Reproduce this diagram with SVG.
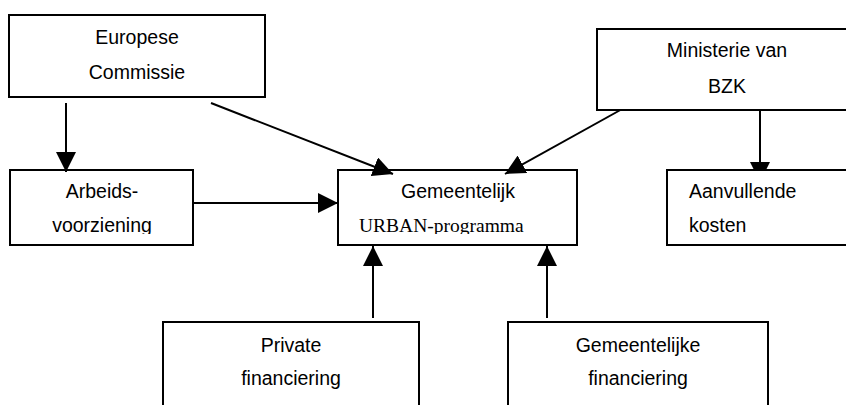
<svg xmlns="http://www.w3.org/2000/svg" width="846" height="405" viewBox="0 0 846 405">
<defs>
<style>
.box{fill:#fff;stroke:#000;stroke-width:2}
.t{font-family:"Liberation Sans",Arial,sans-serif;font-size:19.5px;fill:#000;text-anchor:middle}
.ts{font-family:"Liberation Serif","Times New Roman",serif;font-size:19.5px;fill:#000}
.l{font-family:"Liberation Sans",Arial,sans-serif;font-size:19.5px;fill:#000}
.c{stroke:#000;stroke-width:2;fill:none;marker-end:url(#ah)}
</style>
<marker id="ah" markerUnits="userSpaceOnUse" markerWidth="20" markerHeight="20" viewBox="0 0 20 20" refX="20" refY="10" orient="auto">
<path d="M0,0 L20,10 L0,20 Z" fill="#000"/>
</marker>
<clipPath id="c1"><rect x="0" y="0" width="846" height="234"/></clipPath>
<clipPath id="c2"><rect x="0" y="0" width="846" height="395"/></clipPath>
</defs>
<g id="connectors">
<line class="c" x1="66" y1="103" x2="66" y2="172"/>
<line class="c" x1="211" y1="103" x2="393" y2="174"/>
<line class="c" x1="624" y1="108" x2="505" y2="174"/>
<line class="c" x1="760" y1="111" x2="760" y2="182"/>
<line class="c" x1="193" y1="203" x2="338" y2="203"/>
<line class="c" x1="373" y1="318" x2="373" y2="246"/>
<line class="c" x1="547" y1="318" x2="547" y2="246"/>
</g>
<g id="europese">
<rect class="box" x="9" y="15" width="256" height="82"/>
<text class="t" x="137" y="44">Europese</text>
<text class="t" x="137" y="79">Commissie</text>
</g>
<g id="ministerie">
<rect class="box" x="597" y="29" width="260" height="81"/>
<text class="t" x="727" y="57">Ministerie van</text>
<text class="t" x="727" y="93">BZK</text>
</g>
<g id="arbeids">
<rect class="box" x="10" y="170" width="183" height="75" fill-opacity="0"/>
<g clip-path="url(#c1)">
<text class="t" x="102" y="198">Arbeids-</text>
<text class="t" x="102" y="232">voorziening</text>
</g>
</g>
<g id="urban">
<rect class="box" x="338" y="170" width="239" height="75" fill-opacity="0"/>
<g clip-path="url(#c1)">
<text class="t" x="458" y="198">Gemeentelijk</text>
<text class="ts" x="359" y="232">URBAN-programma</text>
</g>
</g>
<g id="aanvullende">
<rect class="box" x="667" y="170" width="190" height="75"/>
<g clip-path="url(#c1)">
<text class="l" x="689" y="198">Aanvullende</text>
<text class="l" x="689" y="232">kosten</text>
</g>
</g>
<g id="private">
<rect class="box" x="163" y="322" width="256" height="100"/>
<g clip-path="url(#c2)">
<text class="t" x="291" y="352">Private</text>
<text class="t" x="291" y="385">financiering</text>
</g>
</g>
<g id="gemeentelijke">
<rect class="box" x="508" y="322" width="260" height="100"/>
<g clip-path="url(#c2)">
<text class="t" x="638" y="352">Gemeentelijke</text>
<text class="t" x="638" y="385">financiering</text>
</g>
</g>
</svg>
